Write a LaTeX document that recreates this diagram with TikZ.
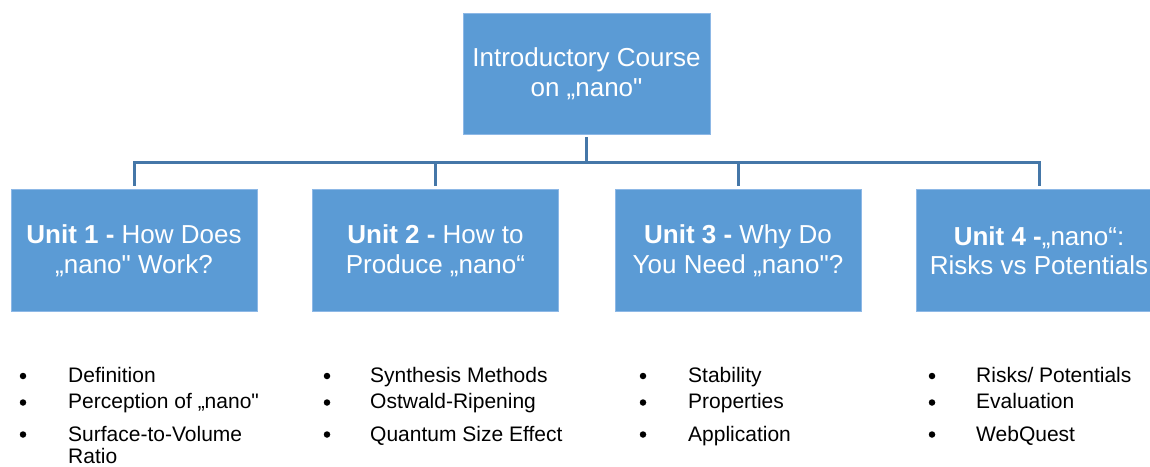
\documentclass[tikz,border=0pt]{standalone}
\usepackage{fontspec}
\setmainfont{Liberation Sans}[Ligatures=TeXOff]
\definecolor{boxblue}{HTML}{5B9BD5}
\definecolor{boxedge}{HTML}{8DB8E6}
\definecolor{connblue}{HTML}{4577A8}
\tikzset{
  unitbox/.style={rectangle, fill=boxblue, draw=boxedge, line width=0.8pt,
    minimum width=246pt, minimum height=122pt, inner sep=0pt,
    text=white, align=center, font=\fontsize{26}{29.5}\selectfont},
  conn/.style={draw=connblue, line width=3pt},
  bitem/.style={anchor=base west, inner sep=0pt, font=\fontsize{21}{24}\selectfont},
  bdot/.style={circle, fill=black, inner sep=0pt, minimum size=6.5pt}
}
\begin{document}
\begin{tikzpicture}[x=1pt,y=-1pt]
\useasboundingbox (0,0) rectangle (1150,466);
\fill[white] (0,0) rectangle (1150,466);
\begin{scope}
\clip (0,0) rectangle (1150,466);
% boxes
\node[unitbox, minimum width=247pt, minimum height=121pt] (top) at (586.5,73.5) {Introductory Course\\on „nano"};
\node[unitbox] (u1) at (134,250.5) {\textbf{Unit 1 -} How Does\\„nano" Work?};
\node[unitbox] (u2) at (435.5,250.5) {\textbf{Unit 2 -} How to\\Produce „nano“};
\node[unitbox] (u3) at (738,250.5) {\textbf{Unit 3 -} Why Do\\You Need „nano"?};
\node[unitbox] (u4) at (1039,250.5) {\textbf{Unit 4 -}„nano“:\\Risks vs Potentials};
% connectors
\coordinate (bus) at (586.5,162);
\draw[conn] ([yshift=-3pt]top.south) -- (top.south |- bus);
\draw[conn, line cap=rect] (u1.north |- bus) -- (u4.north |- bus);
\foreach \u in {u1,u2,u3,u4}{
  \draw[conn] (\u.north |- bus) -- ([yshift=3pt]\u.north);
}
% bullet lists
\foreach \bx/\tx/\name/\a/\b/\c in {
  23/68/l1/Definition/{Perception of „nano"}/Surface-to-Volume,
  327/370/l2/Synthesis Methods/Ostwald-Ripening/Quantum Size Effect,
  643/688/l3/Stability/Properties/Application,
  932/976/l4/{Risks/ Potentials}/Evaluation/WebQuest}{
  \node[bdot] (\name d1) at (\bx,376) {};
  \node[bdot] (\name d2) at (\bx,402.5) {};
  \node[bdot] (\name d3) at (\bx,434.5) {};
  \node[bitem] (\name t1) at (\tx,382) {\a};
  \node[bitem] (\name t2) at (\tx,408.5) {\b};
  \node[bitem] (\name t3) at (\tx,441) {\c};
}
\node[bitem] (l1t4) at (68,463) {Ratio};
\end{scope}
\end{tikzpicture}
\end{document}
